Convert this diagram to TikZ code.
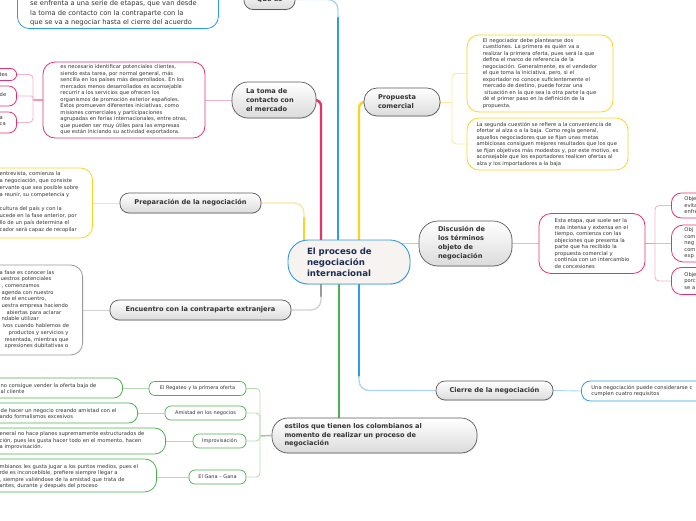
\documentclass[tikz,border=0pt]{standalone}
\usepackage{fontspec}
\setmainfont{DejaVu Sans}
\usetikzlibrary{backgrounds,shadows}
\definecolor{cblue}{HTML}{2E9BE6}
\definecolor{cbluel}{HTML}{A9D4F5}
\definecolor{cpink}{HTML}{E3336E}
\definecolor{cpinkl}{HTML}{F4B3C8}
\definecolor{cyel}{HTML}{F9D423}
\definecolor{cyell}{HTML}{FBE6A0}
\definecolor{cgray}{HTML}{9A9A9A}
\definecolor{cgrayl}{HTML}{D2D2D2}
\definecolor{cgreen}{HTML}{4DAF4F}
\definecolor{cgreenl}{HTML}{B5DDB0}
\definecolor{ctext}{HTML}{333333}
\definecolor{cnavy}{HTML}{1E2D55}
\definecolor{cborder}{HTML}{5A5A5A}
\definecolor{cfill}{HTML}{F6F3F1}
\tikzset{
  topic/.style={draw=cborder, line width=0.7pt, top color=white, bottom color=black!14,
    text=ctext, font=\fontsize{6.6}{9}\selectfont\bfseries, inner sep=0pt,
    drop shadow={opacity=0.18, shadow xshift=0.6pt, shadow yshift=-0.9pt}},
  central/.style={draw=cblue, line width=0.9pt, fill=cfill, rounded corners=20pt,
    minimum height=44pt, text width=84pt, inner xsep=19pt, inner ysep=0pt, align=left,
    font=\fontsize{8.6}{11}\selectfont\bfseries, text=cnavy,
    drop shadow={opacity=0.18, shadow xshift=0.6pt, shadow yshift=-0.9pt}},
  tbox/.style={fill=white, line width=0.8pt, rounded corners=12pt, text=ctext,
    font=\fontsize{5.2}{6.5}\selectfont, align=left, inner sep=0pt},
  txt/.style={align=left, inner sep=0pt, text=ctext, font=\fontsize{5.2}{6.5}\selectfont},
  subnode/.style={draw=cgreen, line width=0.7pt, fill=white, rounded corners=6pt,
    minimum height=14pt, inner sep=0pt, text=ctext, font=\fontsize{5}{6}\selectfont},
  mainline/.style={line width=2.4pt, line cap=round},
  subline/.style={line width=0.9pt},
  midline/.style={line width=1.4pt},
}
\begin{document}
\begin{tikzpicture}[x=1pt,y=-1pt]
\useasboundingbox (0,0) rectangle (696,520);

% ---------- central ----------
\node[central] (central) at (349,262) {El proceso de\\negociación\\internacional};

% ---------- topics ----------
\node[topic, minimum width=51pt, minimum height=20pt, rounded corners=9pt] (quees) at (269.5,-0.5) {Qué es};
\node[topic, minimum height=36pt, rounded corners=16pt, text width=56pt, inner xsep=14pt, align=left] (toma) at (274,100) {La toma de\\contacto con\\el mercado};
\node[topic, minimum width=141pt, minimum height=20pt, rounded corners=9pt] (prep) at (190.5,203) {Preparación de la negociación};
\node[topic, minimum height=28pt, rounded corners=13pt, text width=48pt, inner xsep=14pt, align=left] (prop) at (402,102) {Propuesta\\comercial};
\node[topic, minimum height=45pt, rounded corners=19pt, text width=55pt, inner xsep=19pt, align=left] (disc) at (465.5,243.5) {Discusión de\\los términos\\objeto de\\negociación};
\node[topic, minimum width=181pt, minimum height=20pt, rounded corners=9pt] (enc) at (200.5,310) {Encuentro con la contraparte extranjera};
\node[topic, minimum width=117pt, minimum height=19pt, rounded corners=9pt] (cierre) at (494.5,390.5) {Cierre de la negociación};
\node[topic, minimum height=35pt, rounded corners=16pt, text width=180pt, inner xsep=12.5pt, align=left, font=\fontsize{6.6}{8.6}\selectfont\bfseries] (estilos) at (374.5,435.5) {estilos que tienen los colombianos al\\momento de realizar un proceso de\\negociación};

% ---------- text boxes ----------
\node[tbox, draw=cblue, minimum width=201pt, minimum height=70pt, anchor=south west] (qbox) at (17,29) {};
\node[txt, font=\fontsize{6.7}{9.5}\selectfont, anchor=west] (qboxt) at (30,13.5) {se enfrenta a una serie de etapas, que van desde\\la toma de contacto con la contraparte con la\\que se va a negociar hasta el cierre del acuerdo};

\node[tbox, draw=cpink, minimum width=162pt, minimum height=76pt] (tomabox) at (124,100) {es necesario identificar potenciales clientes,\\siendo esta tarea, por normal general, más\\sencilla en los países más desarrollados. En los\\mercados menos desarrollados es aconsejable\\recurrir a los servicios que ofrecen los\\organismos de promoción exterior españoles.\\Éstos promueven diferentes iniciativas, como\\misiones comerciales y participaciones\\agrupadas en ferias internacionales, entre otras,\\que pueden ser muy útiles para las empresas\\que están iniciando su actividad exportadora.};

\node[tbox, draw=cpink, rounded corners=6pt, minimum width=50pt, minimum height=12pt, anchor=east] (pb1) at (17,74.5) {};
\node[txt, anchor=west] (pb1t) at (-0.5,74.5) {tes};
\node[tbox, draw=cpink, rounded corners=8pt, minimum width=50pt, minimum height=20pt, anchor=east] (pb2) at (17,96) {};
\node[txt, anchor=west] (pb2t) at (-0.5,95) {de};
\node[tbox, draw=cpink, rounded corners=8pt, minimum width=50pt, minimum height=21pt, anchor=east] (pb3) at (17,122.5) {};
\node[txt, anchor=west] (pb3t) at (-0.5,121) {a\\ca};

\node[tbox, draw=cyel, minimum width=120pt, minimum height=70pt, anchor=east] (prepbox) at (93,203) {};
\node[txt, font=\fontsize{5.2}{7}\selectfont, anchor=west] (prepboxt) at (-0.5,202.5) {entrevista, comienza la\\a negociación, que consiste\\ervante que sea posible sobre\\a reunir, su competencia y\\[7pt]cultura del país y con la\\ucede en la fase anterior, por\\llo de un país determina el\\cador será capaz de recopilar};

\node[tbox, draw=cyel, minimum width=146pt, minimum height=77pt] (pbox1) at (540,73.5) {El negociador debe plantearse dos\\cuestiones. La primera es quién va a\\realizar la primera oferta, pues será la que\\defina el marco de referencia de la\\negociación. Generalmente, es el vendedor\\el que toma la iniciativa, pero, si el\\exportador no conoce suficientemente el\\mercado de destino, puede forzar una\\\hspace*{1.5pt}situación en la que sea la otra parte la que\\dé el primer paso en la definición de la\\propuesta.};
\node[tbox, draw=cyel, minimum width=161pt, minimum height=52pt] (pbox2) at (547.5,144) {La segunda cuestión se refiere a la conveniencia de\\ofertar al alza o a la baja. Como regla general,\\aquellos negociadores que se fijan unas metas\\ambiciosas consiguen mejores resultados que los que\\se fijan objetivos más modestos y, por este motivo, es\\aconsejable que los exportadores realicen ofertas al\\alza y los importadores a la baja};

\node[tbox, draw=cpink, minimum width=106pt, minimum height=60pt] (etapa) at (592,243.5) {Esta etapa, que suele ser la\\más intensa y extensa en el\\tiempo, comienza con las\\objeciones que presenta la\\parte que ha recibido la\\propuesta comercial y\\continúa con un intercambio\\de concesiones};

\node[tbox, draw=cpink, rounded corners=10pt, anchor=west, minimum height=25pt, text width=60pt, inner xsep=13pt] (r1) at (671,205.5) {Obje\\evita\\enfre};
\node[tbox, draw=cpink, rounded corners=12pt, anchor=west, minimum height=37pt, text width=60pt, inner xsep=13pt] (r2) at (671,243.5) {Obj\\com\\neg\\com\\exp};
\node[tbox, draw=cpink, rounded corners=10pt, anchor=west, minimum height=27pt, text width=60pt, inner xsep=13pt] (r3) at (671,281) {Obje\\porc\\se a};

\node[tbox, draw=cgray, minimum width=110pt, minimum height=90pt, anchor=east] (encbox) at (83,310) {};
\node[txt, font=\fontsize{5.2}{6.7}\selectfont, anchor=west] (encboxt) at (-0.5,309.5) {a fase es conocer las\\\hspace*{1pt}uestros potenciales\\\hspace*{2pt}, comenzamos\\\hspace*{2pt}agenda con nuestro\\\hspace*{2pt}nte el encuentro,\\\hspace*{2pt}uestra empresa haciendo\\\hspace*{7pt}abiertas para aclarar\\\hspace*{2pt}ndable utilizar\\\hspace*{3pt}ivos cuando hablemos de\\\hspace*{9pt}productos y servicios y\\\hspace*{5pt}resentada, mientras que\\\hspace*{5pt}xpresiones dubitativas o};

\node[tbox, draw=cblue, rounded corners=9pt, anchor=west, minimum height=20pt, text width=150pt, inner xsep=10pt] (cbox) at (581,391) {Una negociación puede considerarse c\\cumplen cuatro requisitos};

% ---------- estilos sub nodes ----------
\node[subnode, minimum width=97pt] (s1) at (197.5,388.5) {El Regateo y la primera oferta};
\node[subnode, minimum width=81pt] (s2) at (205.5,413) {Amistad en los negocios};
\node[subnode, minimum width=53pt] (s3) at (219.5,441) {Improvisación};
\node[subnode, minimum width=57pt] (s4) at (217.5,477) {El Gana – Gana};

\node[tbox, draw=cgreen, rounded corners=9pt, minimum width=150pt, minimum height=20pt, anchor=east] (g1) at (123,388) {};
\node[txt, anchor=west] (g1t) at (-0.5,388.5) {\hspace*{1pt}no consigue  vender la oferta baja de\\\hspace*{1pt}al cliente};
\node[tbox, draw=cgreen, rounded corners=9pt, minimum width=160pt, minimum height=20pt, anchor=east] (g2) at (138,413) {};
\node[txt, anchor=west] (g2t) at (-0.5,413.5) {\hspace*{1pt}de hacer un negocio creando amistad con el\\ando formalismos excesivos};
\node[tbox, draw=cgreen, rounded corners=11pt, minimum width=180pt, minimum height=26pt, anchor=east] (g3) at (166,441) {};
\node[txt, anchor=west] (g3t) at (-0.5,441) {eneral no hace planes supremamente estructurados de\\ción, pues les gusta hacer todo en el momento, hacen\\a improvisación.};
\node[tbox, draw=cgreen, rounded corners=12pt, minimum width=180pt, minimum height=33pt, anchor=east] (g4) at (157,475.5) {};
\node[txt, anchor=west] (g4t) at (-0.5,476.5) {mbianos les gusta jugar a los puntos medios, pues el\\rde es inconcebible, prefiere siempre llegar a\\, siempre valiéndose de la amistad que trata de\\antes, durante y después del proceso};

% ---------- connectors ----------
\begin{scope}[on background layer]
  % Que es (blue)
  \coordinate (cQ) at (338,18);
  \draw[midline, cbluel, rounded corners=10pt] (quees.east) -| (cQ);
  \draw[mainline, cblue] (cQ) -- (cQ |- central.center);
  \draw[subline, cbluel] (quees.west) -- (quees.west -| qbox.east);
  % La toma (pink)
  \coordinate (xT) at (321,0);
  \draw[mainline, cpink, rounded corners=6pt] (toma.east) -| (xT |- central.center);
  \draw[subline, cpinkl] (toma.west) -- (toma.west -| tomabox.east);
  \coordinate (jT) at (33,100);
  \draw[midline, cpinkl!80!cpink] (tomabox.west) -- (jT);
  \draw[subline, cpinkl, rounded corners=4pt] (jT) |- (pb1.east);
  \draw[subline, cpinkl, rounded corners=2pt] (jT) |- (pb2.east);
  \draw[subline, cpinkl, rounded corners=4pt] (jT) |- (pb3.east);
  % Preparacion (yellow)
  \coordinate (cPr) at (304,218);
  \draw[midline, cyell, rounded corners=10pt] (prep.east) -| (cPr);
  \draw[mainline, cyel] (cPr) -- (cPr |- central.center);
  \draw[subline, cyell] (prep.west) -- (prep.west -| prepbox.east);
  % Propuesta (yellow)
  \coordinate (xP) at (359,0);
  \draw[mainline, cyel, rounded corners=6pt] (prop.west) -| (xP |- central.center);
  \coordinate (jP) at (452,102);
  \draw[subline, cyell] (prop.east) -- (jP);
  \draw[subline, cyell, rounded corners=4pt] (jP) |- (pbox1.west);
  \draw[subline, cyell, rounded corners=4pt] (jP) |- (pbox2.west);
  % Discusion (pink)
  \draw[midline, cpinkl] (disc.west) -- (disc.west -| central.center);
  \draw[subline, cpinkl] (disc.east) -- (etapa.west);
  \coordinate (jD) at (655,243.5);
  \draw[midline, cpinkl!80!cpink] (etapa.east) -- (jD);
  \draw[subline, cpinkl, rounded corners=4pt] (jD) |- (r1.west);
  \draw[subline, cpinkl] (jD) -- (r2.west);
  \draw[subline, cpinkl, rounded corners=4pt] (jD) |- (r3.west);
  % Encuentro (gray)
  \coordinate (cE) at (321,296);
  \draw[midline, cgrayl, rounded corners=10pt] (enc.east) -| (cE);
  \draw[mainline, cgray] (cE) -- (cE |- central.center);
  \draw[subline, cgrayl] (enc.west) -- (enc.west -| encbox.east);
  % estilos (green)
  \coordinate (xG) at (339,0);
  \draw[mainline, cgreen] (xG |- central.center) -- (xG |- estilos.center);
  \coordinate (jG) at (260,436);
  \draw[midline, cgreenl!70!cgreen] (estilos.west) -- (jG);
  \draw[subline, cgreenl, rounded corners=4pt] (jG) |- (s1.east);
  \draw[subline, cgreenl, rounded corners=4pt] (jG) |- (s2.east);
  \draw[subline, cgreenl, rounded corners=4pt] (jG) |- (s3.east);
  \draw[subline, cgreenl, rounded corners=4pt] (jG) |- (s4.east);
  \draw[subline, cgreenl] (s1.west) -- (s1.west -| g1.east);
  \draw[subline, cgreenl] (s2.west) -- (s2.west -| g2.east);
  \draw[subline, cgreenl] (s3.west) -- (s3.west -| g3.east);
  \draw[subline, cgreenl] (s4.west) -- (s4.west -| g4.east);
  % Cierre (blue)
  \coordinate (cC) at (359,376);
  \draw[mainline, cblue] (cC |- central.center) -- (cC);
  \draw[midline, cbluel, rounded corners=10pt] (cC) |- (cierre.west);
  \draw[subline, cbluel] (cierre.east) -- (cbox.west);
\end{scope}
\end{tikzpicture}
\end{document}
